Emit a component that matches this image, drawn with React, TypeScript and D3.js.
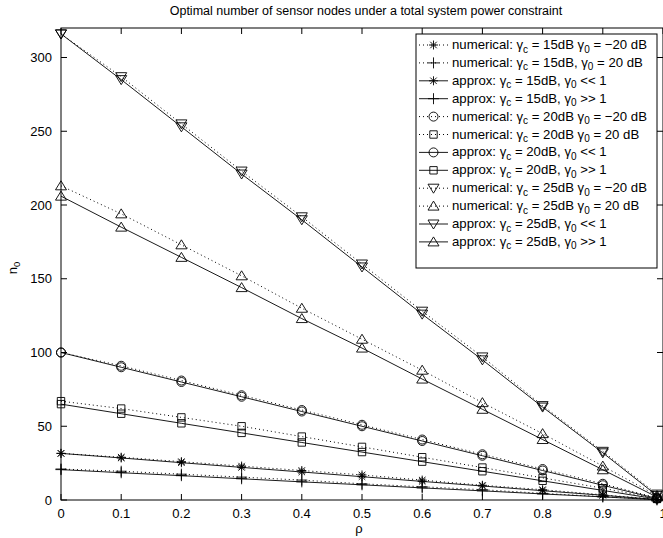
import React from "react";
import * as d3 from "d3";

const rho = [0, 0.1, 0.2, 0.3, 0.4, 0.5, 0.6, 0.7, 0.8, 0.9, 0.99];

const num15Low = [31.6, 29, 26, 23, 20, 17, 13.5, 10, 7, 3.5, 0.5];
const num15High = [21, 19.5, 17.5, 15.5, 13.5, 11, 9, 7, 4.5, 2.3, 0.2];
const app15Low = [31.6, 28.5, 25.3, 22.1, 19, 15.8, 12.6, 9.5, 6.3, 3.2, 0.3];
const app15High = [20.6, 18.5, 16.5, 14.4, 12.3, 10.3, 8.2, 6.2, 4.1, 2.1, 0.2];
const num20Low = [100, 91, 81, 71, 61, 51, 41, 31, 21, 11, 1.5];
const num20High = [67, 62, 56, 50, 43, 36, 29, 22, 15, 8, 1];
const app20Low = [100, 90, 80, 70, 60, 50, 40, 30, 20, 10, 1];
const app20High = [65, 58.5, 52, 45.5, 39, 32.5, 26, 19.5, 13, 6.5, 0.7];
const num25Low = [316, 287, 255, 223, 192, 160, 128, 97, 64, 33, 4];
const num25High = [213, 194, 173, 152, 130, 109, 88, 66, 45, 23, 3];
const app25Low = [316, 285, 253, 221, 190, 158, 126, 95, 63, 32, 3];
const app25High = [206, 185, 164.5, 144, 123, 103, 82, 61.5, 41, 20.5, 2];

const xTicks = [0, 0.1, 0.2, 0.3, 0.4, 0.5, 0.6, 0.7, 0.8, 0.9, 1];
const yTicks = [0, 50, 100, 150, 200, 250, 300];

type Series = {
  values: number[];
  marker: string;
  dotted: boolean;
  pre: string;
  db: string;
  comma: string;
  tail: string;
};

const series: Series[] = [
  { values: num15Low, marker: "star", dotted: true, pre: "numerical: ", db: "15dB", comma: "", tail: " = \u221220 dB" },
  { values: num15High, marker: "plus", dotted: true, pre: "numerical: ", db: "15dB", comma: ",", tail: " = 20 dB" },
  { values: app15Low, marker: "star", dotted: false, pre: "approx: ", db: "15dB", comma: ",", tail: " << 1" },
  { values: app15High, marker: "plus", dotted: false, pre: "approx: ", db: "15dB", comma: ",", tail: " >> 1" },
  { values: num20Low, marker: "circle", dotted: true, pre: "numerical: ", db: "20dB", comma: "", tail: " = \u221220 dB" },
  { values: num20High, marker: "square", dotted: true, pre: "numerical: ", db: "20dB", comma: "", tail: " = 20 dB" },
  { values: app20Low, marker: "circle", dotted: false, pre: "approx: ", db: "20dB", comma: ",", tail: " << 1" },
  { values: app20High, marker: "square", dotted: false, pre: "approx: ", db: "20dB", comma: ",", tail: " >> 1" },
  { values: num25Low, marker: "tdown", dotted: true, pre: "numerical: ", db: "25dB", comma: "", tail: " = \u221220 dB" },
  { values: num25High, marker: "tup", dotted: true, pre: "numerical: ", db: "25dB", comma: "", tail: " = 20 dB" },
  { values: app25Low, marker: "tdown", dotted: false, pre: "approx: ", db: "25dB", comma: ",", tail: " << 1" },
  { values: app25High, marker: "tup", dotted: false, pre: "approx: ", db: "25dB", comma: ",", tail: " >> 1" },
];

function markerPath(type: string, x: number, y: number): string {
  switch (type) {
    case "star": {
      const r = 4.5;
      const d = r * 0.72;
      return `M${x - r},${y}L${x + r},${y}M${x},${y - r}L${x},${y + r}M${x - d},${y - d}L${x + d},${y + d}M${x - d},${y + d}L${x + d},${y - d}`;
    }
    case "plus": {
      const r = 5.5;
      return `M${x - r},${y}L${x + r},${y}M${x},${y - r}L${x},${y + r}`;
    }
    case "circle": {
      const r = 4.5;
      return `M${x + r},${y}A${r},${r} 0 1,1 ${x - r},${y}A${r},${r} 0 1,1 ${x + r},${y}Z`;
    }
    case "square": {
      const r = 3.7;
      return `M${x - r},${y - r}L${x + r},${y - r}L${x + r},${y + r}L${x - r},${y + r}Z`;
    }
    case "tdown": {
      const w = 5.5;
      return `M${x - w},${y - 4}L${x + w},${y - 4}L${x},${y + 5}Z`;
    }
    case "tup": {
      const w = 5.5;
      return `M${x - w},${y + 4}L${x + w},${y + 4}L${x},${y - 5}Z`;
    }
  }
  return "";
}

const FONT = "'Liberation Sans', Arial, Helvetica, sans-serif";

export default function App() {
  const W = 663;
  const H = 538;
  const left = 61;
  const right = 663;
  const top = 28;
  const bottom = 500;

  const x = d3.scaleLinear().domain([0, 1]).range([left, right]);
  const y = d3.scaleLinear().domain([0, 320]).range([bottom, top]);

  const line = d3
    .line<number>()
    .x((_, i) => x(rho[i]))
    .y((d) => y(d));

  const tickLen = 6;

  const legX = 416;
  const legY = 34;
  const legW = 241;
  const legH = 234;
  const rowH = 17.9;
  const row0 = 45;

  return (
    <svg
      width={W}
      height={H}
      style={{ position: "absolute", left: 0, top: 0, background: "#fff" }}
      fontFamily={FONT}
    >
      <rect x={0} y={0} width={W} height={H} fill="#fff" />
      <text x={(left + right) / 2 + 4} y={15} fontSize={12.5} textAnchor="middle" fill="#000">
        Optimal number of sensor nodes under a total system power constraint
      </text>

      {/* data */}
      {series.map((s, k) => (
        <g key={k}>
          <path
            d={line(s.values) || ""}
            fill="none"
            stroke="#000"
            strokeWidth={s.dotted ? 1 : 0.9}
            strokeDasharray={s.dotted ? "1 3" : undefined}
          />
          {s.values.map((v, i) => (
            <path key={i} d={markerPath(s.marker, x(rho[i]), y(v))} fill="none" stroke="#000" strokeWidth={0.9} />
          ))}
        </g>
      ))}

      {/* frame */}
      <rect x={left} y={top} width={right - left} height={bottom - top} fill="none" stroke="#000" strokeWidth={1} />

      {/* x ticks */}
      {xTicks.map((t) => (
        <g key={"x" + t}>
          <line x1={x(t)} x2={x(t)} y1={bottom} y2={bottom - tickLen} stroke="#000" />
          <line x1={x(t)} x2={x(t)} y1={top} y2={top + tickLen} stroke="#000" />
          <text x={x(t)} y={518} fontSize={13} textAnchor="middle" fill="#000">
            {d3.format("")(t)}
          </text>
        </g>
      ))}
      {yTicks.map((t) => (
        <g key={"y" + t}>
          <line x1={left} x2={left + tickLen} y1={y(t)} y2={y(t)} stroke="#000" />
          <line x1={right} x2={right - tickLen} y1={y(t)} y2={y(t)} stroke="#000" />
          <text x={52} y={y(t) + 4.5} fontSize={13} textAnchor="end" fill="#000">
            {t}
          </text>
        </g>
      ))}

      {/* axis labels */}
      <text x={359} y={533} fontSize={13} textAnchor="middle" fill="#000">
        ρ
      </text>
      <text transform={`translate(17,${268}) rotate(-90)`} fontSize={13} textAnchor="middle" fill="#000">
        n<tspan fontSize={9.5} dy={3}>0</tspan>
      </text>

      {/* legend */}
      <rect x={legX} y={legY} width={legW} height={legH} fill="#fff" stroke="#000" strokeWidth={1} />
      {series.map((s, k) => {
        const cy = row0 + k * rowH;
        return (
          <g key={"l" + k}>
            <line
              x1={419}
              x2={448}
              y1={cy}
              y2={cy}
              stroke="#000"
              strokeWidth={s.dotted ? 1 : 0.9}
              strokeDasharray={s.dotted ? "1 3" : undefined}
            />
            <path d={markerPath(s.marker, 433.5, cy)} fill="none" stroke="#000" strokeWidth={0.9} />
            <text x={452} y={cy + 4} fontSize={13.2} fill="#000">
              {s.pre}γ<tspan fontSize={10} dy={3.5}>c</tspan>
              <tspan dy={-3.5}>{" = " + s.db + s.comma + " γ"}</tspan>
              <tspan fontSize={10} dy={3.5}>0</tspan>
              <tspan dy={-3.5}>{s.tail}</tspan>
            </text>
          </g>
        );
      })}
    </svg>
  );
}
